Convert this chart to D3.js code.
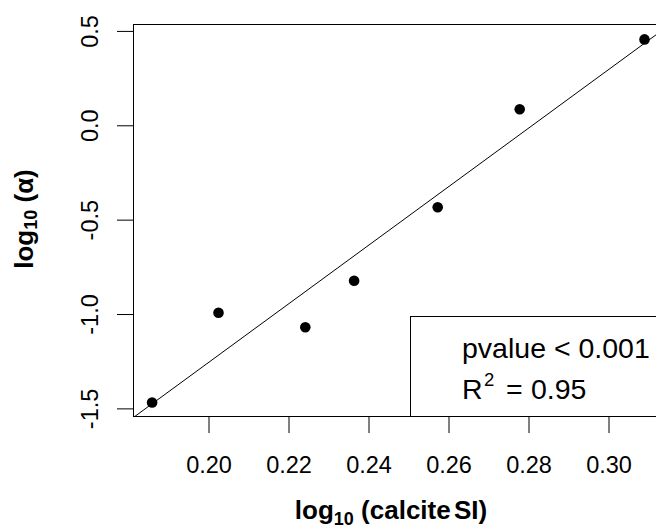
<!DOCTYPE html>
<html>
<head>
<meta charset="utf-8">
<script src="https://cdn.jsdelivr.net/npm/d3@7"></script>
<style>
  body { margin: 0; background: #fff; }
  svg { display: block; font-family: "Liberation Sans", Arial, sans-serif; }
</style>
</head>
<body>
<svg id="chart" width="656" height="526"></svg>
<script>
(function(){
  // points
  var calciteSI = [0.1859, 0.2025, 0.2242, 0.2364, 0.2573, 0.2778, 0.3090]
  var alpha     = [-1.469, -0.993, -1.070, -0.824, -0.434, 0.085, 0.455]
  var xTicks = [0.20, 0.22, 0.24, 0.26, 0.28, 0.30]
  var yTicks = [-1.5, -1.0, -0.5, 0.0, 0.5]
  var pText = "pvalue < 0.001"
  var r2Text = "0.95"

  var svg = d3.select('#chart')

  var x = d3.scaleLinear().domain([0.18125, 0.31425]).range([133.5, 665.5])
  var y = d3.scaleLinear().domain([-1.543, 0.534]).range([416.5, 24.5])

  var pts = calciteSI.map((v, i) => [v, alpha[i]])

  // least squares fit (abline)
  var mx = d3.mean(calciteSI), my = d3.mean(alpha)
  var sxy = d3.sum(pts, d => (d[0]-mx)*(d[1]-my))
  var sxx = d3.sum(pts, d => (d[0]-mx)*(d[0]-mx))
  var slope = sxy / sxx, icpt = my - slope*mx

  svg.append('clipPath').attr('id', 'plotclip')
    .append('rect')
    .attr('x', x.range()[0]).attr('y', y.range()[1])
    .attr('width', x.range()[1]-x.range()[0])
    .attr('height', y.range()[0]-y.range()[1])

  var xd = x.domain()
  svg.append('line')
    .attr('clip-path', 'url(#plotclip)')
    .attr('x1', x(xd[0])).attr('y1', y(icpt + slope*xd[0]))
    .attr('x2', x(xd[1])).attr('y2', y(icpt + slope*xd[1]))
    .attr('stroke', '#000').attr('stroke-width', 1)

  svg.append('g').selectAll('circle')
    .data(pts)
    .enter().append('circle')
    .attr('cx', d => x(d[0]))
    .attr('cy', d => y(d[1]))
    .attr('r', 5.3)
    .attr('fill', '#000')

  // legend box
  var lg = svg.append('g')
  lg.append('rect')
    .attr('x', 410.5).attr('y', 316.5)
    .attr('width', 255).attr('height', 100)
    .attr('fill', '#fff').attr('stroke', '#000').attr('stroke-width', 1)

  lg.append('text')
    .attr('x', 462).attr('y', 358)
    .attr('font-size', 28.5).attr('fill', '#000')
    .text(pText)

  var t2 = lg.append('text').attr('y', 398.5).attr('font-size', 28.5).attr('fill', '#000')
  t2.append('tspan').attr('x', 462).text('R')
  t2.append('tspan').attr('x', 484).attr('dy', -13).attr('font-size', 18.5).text('2')
  t2.append('tspan').attr('x', 506).attr('dy', 13).text('=')
  t2.append('tspan').attr('x', 531).text(r2Text)

  // box
  svg.append('rect')
    .attr('x', x.range()[0]).attr('y', y.range()[1])
    .attr('width', x.range()[1]-x.range()[0])
    .attr('height', y.range()[0]-y.range()[1])
    .attr('fill', 'none').attr('stroke', '#000').attr('stroke-width', 1)

  var xAxis = svg.append('g')
    .attr('transform', 'translate(0,' + y.range()[0] + ')')
    .call(d3.axisBottom(x).tickValues(xTicks).tickSize(16.5).tickFormat(d => d.toFixed(2)))
  xAxis.select('.domain').remove()
  xAxis.selectAll('line').attr('stroke', '#000')
  xAxis.selectAll('text')
    .attr('y', 56.5).attr('dy', null)
    .attr('font-size', 23.5).attr('fill', '#000')
    .attr('font-family', '"Liberation Sans", Arial, sans-serif')

  var yAxis = svg.append('g')
    .attr('transform', 'translate(' + x.range()[0] + ',0)')
    .call(d3.axisLeft(y).tickValues(yTicks).tickSize(16.5).tickFormat(d => d.toFixed(1)))
  yAxis.select('.domain').remove()
  yAxis.selectAll('line').attr('stroke', '#000')
  yAxis.selectAll('text')
    .attr('x', null).attr('dy', null)
    .attr('text-anchor', 'middle')
    .attr('transform', 'translate(-36,0) rotate(-90)')
    .attr('font-size', 23.5).attr('fill', '#000')
    .attr('font-family', '"Liberation Sans", Arial, sans-serif')

  // axis titles
  var xt = svg.append('text')
    .attr('x', 391).attr('y', 519.3)
    .attr('text-anchor', 'middle')
    .attr('font-size', 26).attr('font-weight', 'bold').attr('fill', '#000')
  xt.append('tspan').text('log')
  xt.append('tspan').attr('dy', 6).attr('font-size', 18).text('10')
  xt.append('tspan').attr('dy', -6).text(' (calcite')
  xt.append('tspan').attr('dx', -4).text(' SI)')

  var yt = svg.append('text')
    .attr('transform', 'translate(33.3,219) rotate(-90)')
    .attr('text-anchor', 'middle')
    .attr('font-size', 26).attr('font-weight', 'bold').attr('fill', '#000')
  yt.append('tspan').text('log')
  yt.append('tspan').attr('dy', 4).attr('font-size', 18).text('10')
  yt.append('tspan').attr('dy', -4).text(' (α)')
})()
</script>
</body>
</html>
